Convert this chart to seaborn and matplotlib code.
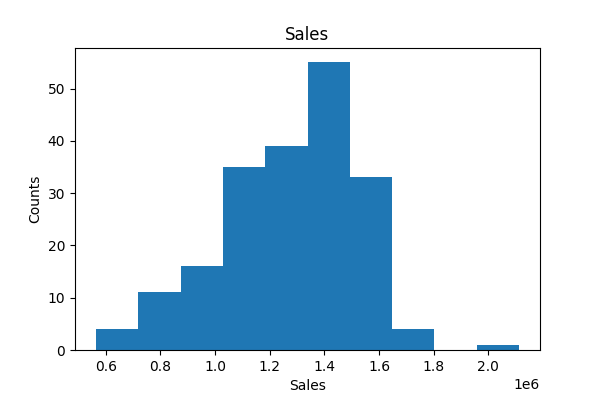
import numpy as np
import pandas as pd
import matplotlib
matplotlib.use("Agg")
import matplotlib.pyplot as plt
import seaborn as sns

# histogram: 10 equal bins
sales_min = 0.5645e6
sales_max = 2.112e6
counts = [4, 11, 16, 35, 39, 55, 33, 4, 0, 1]

edges = np.linspace(sales_min, sales_max, len(counts) + 1)
centers = (edges[:-1] + edges[1:]) / 2
df = pd.DataFrame({"Sales": centers, "n": counts})

fig, ax = plt.subplots(figsize=(6, 4), dpi=100)
fig.subplots_adjust(bottom=0.125)
sns.histplot(data=df, x="Sales", weights="n", bins=list(edges), ax=ax,
             color="#1f77b4", alpha=1, edgecolor="none", linewidth=0)
ax.set_title("Sales")
ax.set_xlabel("Sales")
ax.set_ylabel("Counts")
ax.set_xticks([0.6e6, 0.8e6, 1.0e6, 1.2e6, 1.4e6, 1.6e6, 1.8e6, 2.0e6])

fig.savefig("out.png", dpi=100)
